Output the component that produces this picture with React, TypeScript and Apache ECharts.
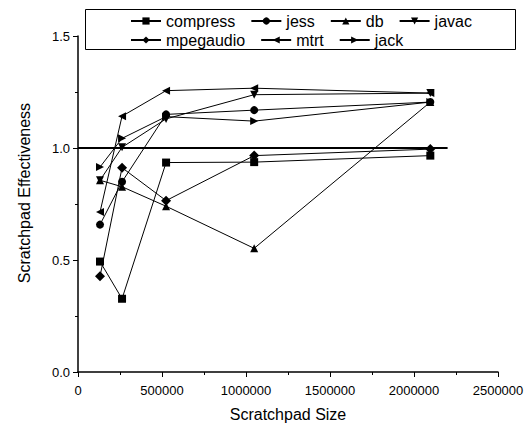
import React, { useEffect, useRef } from "react";
import * as echarts from "echarts";

const sizes = [131072, 262144, 524288, 1048576, 2097152];
const compress = [0.493, 0.327, 0.935, 0.937, 0.966];
const jess = [0.658, 0.849, 1.15, 1.169, 1.205];
const db = [0.856, 0.827, 0.74, 0.552, 1.205];
const javac = [0.856, 1.003, 1.13, 1.238, 1.245];
const mpegaudio = [0.427, 0.912, 0.765, 0.966, 0.995];
const mtrt = [0.714, 1.142, 1.256, 1.267, 1.245];
const jack = [0.915, 1.043, 1.14, 1.12, 1.205];
const refLine = [[0, 1.0], [2200000, 1.0]];

const FONT = '"Liberation Sans", Arial, Helvetica, sans-serif';

const seriesDefs = [
  { name: "compress", data: compress, symbol: "rect", rotate: 0 },
  { name: "jess", data: jess, symbol: "circle", rotate: 0 },
  { name: "db", data: db, symbol: "triangle", rotate: 0 },
  { name: "javac", data: javac, symbol: "triangle", rotate: 180 },
  { name: "mpegaudio", data: mpegaudio, symbol: "diamond", rotate: 0 },
  { name: "mtrt", data: mtrt, symbol: "triangle", rotate: 90 },
  { name: "jack", data: jack, symbol: "triangle", rotate: -90 },
];

export default function App() {
  const ref = useRef<HTMLDivElement>(null);
  useEffect(() => {
    if (!ref.current) return;
    const chart = echarts.init(ref.current, null, { renderer: "svg" });
    const legendCommon = {
      left: 130,
      orient: "horizontal",
      itemWidth: 30,
      itemHeight: 9,
      itemGap: 15,
      textStyle: { fontFamily: FONT, fontSize: 16, color: "#000" },
      inactiveColor: "#000",
      selectedMode: false,
      padding: 0,
    };
    chart.setOption({
      animation: false,
      backgroundColor: "#fff",
      textStyle: { fontFamily: FONT },
      grid: { left: 78, top: 36, width: 420, height: 340, containLabel: false },
      legend: [
        { ...legendCommon, top: 13, data: ["compress", "jess", "db", "javac"] },
        { ...legendCommon, top: 32, data: ["mpegaudio", "mtrt", "jack"] },
      ],
      graphic: [
        {
          type: "rect",
          shape: { x: 85.5, y: 9.5, width: 430, height: 40 },
          style: { fill: "none", stroke: "#000", lineWidth: 1 },
          z: 0,
        },
        {
          type: "text",
          x: 24,
          y: 193,
          rotation: Math.PI / 2,
          style: {
            text: "Scratchpad Effectiveness",
            font: `16px ${FONT}`,
            fill: "#000",
            textAlign: "center",
            textVerticalAlign: "middle",
            align: "center",
            verticalAlign: "middle",
          },
        },
      ],
      xAxis: {
        type: "value",
        min: 0,
        max: 2500000,
        interval: 500000,
        name: "Scratchpad Size",
        nameLocation: "middle",
        nameGap: 34,
        nameTextStyle: { fontFamily: FONT, fontSize: 16, color: "#000" },
        axisLine: { show: true, onZero: false, lineStyle: { color: "#000", width: 1.5 } },
        axisTick: { show: true, length: 5, lineStyle: { color: "#000", width: 1 } },
        minorTick: { show: true, splitNumber: 2, length: 3, lineStyle: { color: "#000", width: 1 } },
        splitLine: { show: false },
        axisLabel: {
          fontFamily: FONT,
          fontSize: 13,
          color: "#000",
          margin: 12,
          formatter: (v: number) => String(Math.round(v)),
        },
      },
      yAxis: {
        type: "value",
        min: 0,
        max: 1.5,
        interval: 0.5,
        axisLine: { show: true, onZero: false, lineStyle: { color: "#000", width: 1.5 } },
        axisTick: { show: true, length: 5, lineStyle: { color: "#000", width: 1 } },
        minorTick: { show: true, splitNumber: 2, length: 3, lineStyle: { color: "#000", width: 1 } },
        splitLine: { show: false },
        axisLabel: {
          fontFamily: FONT,
          fontSize: 13,
          color: "#000",
          margin: 8,
          formatter: (v: number) => v.toFixed(1),
        },
      },
      series: [
        {
          name: "ref",
          type: "line",
          data: refLine,
          showSymbol: false,
          symbol: "none",
          lineStyle: { color: "#000", width: 2 },
          silent: true,
          z: 1,
        },
        ...seriesDefs.map((s) => ({
          name: s.name,
          type: "line",
          data: sizes.map((x, i) => [x, s.data[i]]),
          symbol: s.symbol,
          symbolSize: s.symbol === "diamond" ? 10 : 8,
          symbolRotate: s.rotate,
          showSymbol: true,
          color: "#000",
          itemStyle: { color: "#000" },
          lineStyle: { color: "#000", width: 1 },
          z: 3,
        })),
      ],
    });
    return () => chart.dispose();
  }, []);
  return (
    <div
      ref={ref}
      style={{ position: "fixed", left: 0, top: 0, width: 527, height: 427, background: "#fff" }}
    />
  );
}
